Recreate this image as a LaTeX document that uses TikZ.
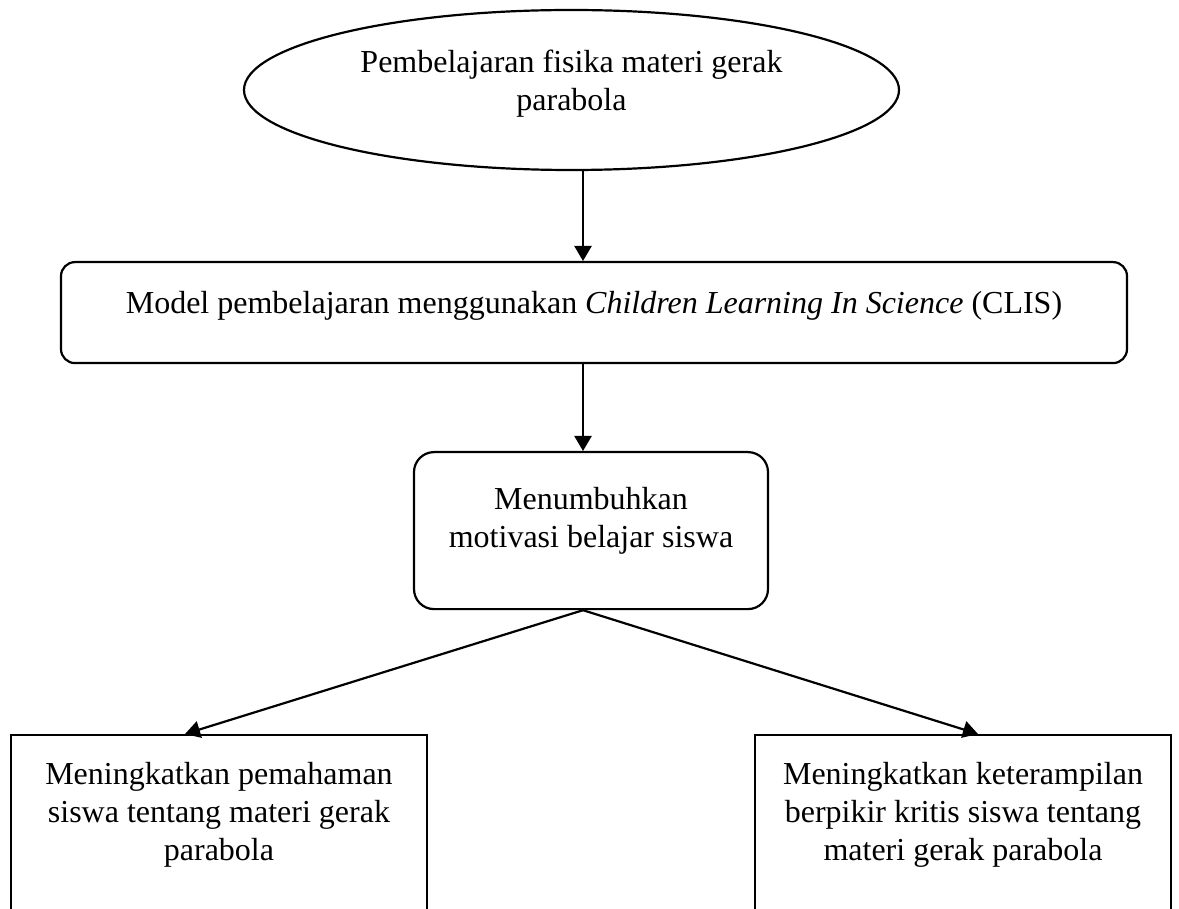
\documentclass[tikz,border=0pt]{standalone}
\usepackage{fontspec}
\setmainfont{Liberation Serif}
\usepackage{tikz}
\usetikzlibrary{arrows.meta, shapes.geometric}

\begin{document}
\begin{tikzpicture}[
  x=1pt, y=-1pt,
  every node/.style={font=\fontsize{32}{38}\selectfont},
  ovalbox/.style  = {ellipse, draw, line width=2.2pt, inner sep=0pt,
                     minimum width=655pt, minimum height=160pt,
                     text width=440pt, align=flush center,
                     text height=22pt, text depth=56pt},
  roundbox/.style = {rectangle, rounded corners=14pt, draw, line width=2.2pt,
                     inner xsep=5pt, inner ysep=0pt, align=flush center,
                     anchor=north},
  plainbox/.style = {rectangle, draw, line width=2.2pt,
                     inner xsep=5pt, inner ysep=0pt, align=flush center,
                     minimum width=416pt, text width=406pt,
                     text height=49pt, text depth=150pt, anchor=north},
  arrow/.style    = {-{Triangle[length=15pt, width=17pt]}, line width=2.2pt}
]

\clip (0,0) rectangle (1179,909);

\node[ovalbox] (topic) at (571.5,90)
  {Pembelajaran fisika materi gerak\\parabola};

\node[roundbox, minimum width=1066pt, text width=1056pt,
      text height=51pt, text depth=50pt] (model) at (594,261)
  {Model pembelajaran menggunakan \textit{Children Learning In Science} (CLIS)};

\node[roundbox, rounded corners=20pt, minimum width=354pt, text width=344pt,
      text height=57pt, text depth=100pt] (motiv) at (591,451)
  {Menumbuhkan\\motivasi belajar siswa};

\node[plainbox] (under) at (219,734)
  {Meningkatkan pemahaman\\siswa tentang materi gerak\\parabola};

\node[plainbox] (kritis) at (963,734)
  {Meningkatkan keterampilan\\berpikir kritis siswa tentang\\materi gerak parabola};

\coordinate (spine) at (583,0);

\draw[arrow] (spine |- topic.south) -- (spine |- model.north);
\draw[arrow] (spine |- model.south) -- (spine |- motiv.north);
\draw[arrow] (spine |- motiv.south) -- ([xshift=-34pt]under.north);
\draw[arrow] (spine |- motiv.south) -- ([xshift=15pt]kritis.north);

\end{tikzpicture}
\end{document}
